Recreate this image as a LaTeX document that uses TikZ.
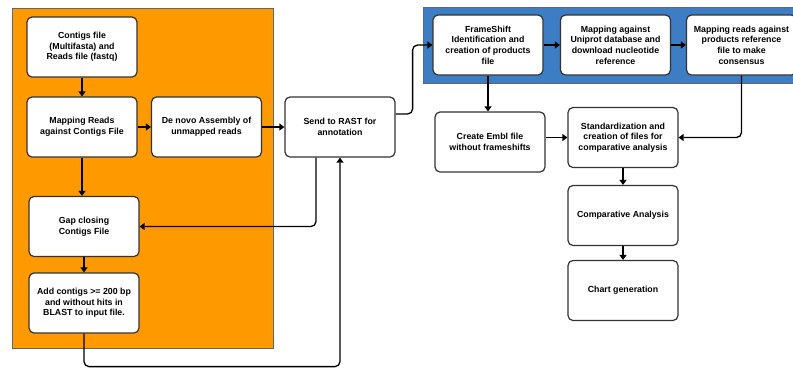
\documentclass[tikz,border=0pt]{standalone}
\usepackage{fontspec}
\setmainfont{Liberation Sans}
\usetikzlibrary{arrows.meta}
\definecolor{panelorange}{HTML}{FF9900}
\definecolor{panelblue}{HTML}{3C7DC4}
\tikzset{
  stepbox/.style={draw=black!80, line width=1.2pt, fill=white, rounded corners=5pt,
    minimum width=110pt, minimum height=60pt, align=center, inner sep=2pt,
    font=\bfseries\fontsize{8.8}{10.7}\selectfont},
  link/.style={line width=1.3pt, rounded corners=5pt, -{Triangle[length=5pt,width=7pt]}}
}
\begin{document}
\begin{tikzpicture}[x=1pt,y=-1pt]
         \useasboundingbox (0,0) rectangle (793,368) ;
         % background panels
         \draw[black!60,fill=panelorange] (12,8) rectangle (273,348) ;
         \draw[black!60,fill=panelblue] (423,7) rectangle (800,83) ;
         % assembly steps
         \node[stepbox] (cont) at (82,47) {Contigs file\\(Multifasta) and\\Reads file (fastq)} ;
         \node[stepbox] (mapr) at (82,127) {Mapping Reads\\against Contigs File} ;
         \node[stepbox] (denovo) at (206.5,127) {De novo Assembly of\\unmapped reads} ;
         \node[stepbox] (rast) at (340,127) {Send to RAST for\\annotation} ;
         \node[stepbox] (gap) at (84,226.5) {Gap closing\\Contigs File} ;
         \node[stepbox] (addc) at (84,303) {Add contigs >= 200 bp\\and without hits in\\BLAST to input file.} ;
         % frameshift steps
         \node[stepbox] (frame) at (488,45) {FrameShift\\Identification and\\creation of products\\file} ;
         \node[stepbox] (unip) at (615.5,45) {Mapping against\\Uniprot database and\\download nucleotide\\reference} ;
         \node[stepbox] (cons) at (741.5,45) {Mapping reads against\\products reference\\file to make\\consensus} ;
         \node[stepbox] (embl) at (490,142) {Create Embl file\\without frameshifts} ;
         \node[stepbox] (std) at (623,137.5) {Standardization and\\creation of files for\\comparative analysis} ;
         \node[stepbox] (comp) at (623,215.5) {Comparative Analysis} ;
         \node[stepbox] (chart) at (623,290.5) {Chart generation} ;
         % connectors
         \draw[link] (cont) -- (mapr) ;
         \draw[link] (mapr) -- (denovo) ;
         \draw[link] (denovo) -- (rast) ;
         \draw[link] (mapr.south) -- (mapr.south |- gap.north) ;
         \draw[link] (gap) -- (addc) ;
         \draw[link] ([xshift=-24pt]rast.south) |- (gap.east) ;
         \draw[link] (addc.south) -- ++(0,33) -| (rast.south) ;
         \draw[link] ([yshift=13pt]rast.east) -- ++(17,0) |- (frame.west) ;
         \draw[link] (frame) -- (unip) ;
         \draw[link] (unip) -- (cons) ;
         \draw[link] (frame.south) -- (frame.south |- embl.north) ;
         \draw[link] (embl.east |- std.west) -- (std.west) ;
         \draw[link] (cons.south) |- (std.east) ;
         \draw[link] (std) -- (comp) ;
         \draw[link] (comp) -- (chart) ;
      \end{tikzpicture}
\end{document}
